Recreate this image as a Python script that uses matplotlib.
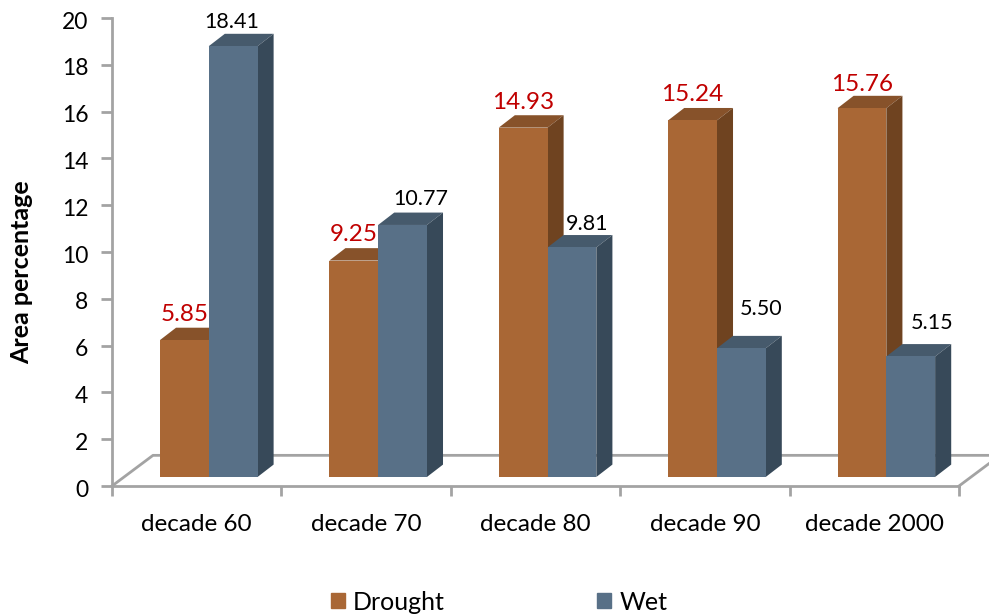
import matplotlib
matplotlib.use("Agg")
import matplotlib.pyplot as plt
from matplotlib.patches import Patch, Polygon
from matplotlib.transforms import ScaledTranslation

plt.rcParams["font.family"] = ["Lato", "DejaVu Sans"]

# Chart data
decades = ["decade 60", "decade 70", "decade 80", "decade 90", "decade 2000"]
drought = [5.85, 9.25, 14.93, 15.24, 15.76]
wet = [18.41, 10.77, 9.81, 5.50, 5.15]
y_ticks = [0, 2, 4, 6, 8, 10, 12, 14, 16, 18, 20]

# Label nudges relative to each bar's front top centre, in pixels
drought_nudge = [(0, 26), (0, 26), (0, 25), (0, 26), (0, 24)]
wet_nudge = [(-1, 24), (18, 26), (15, 23), (20, 39), (21, 33)]

# Colours: front, top and side face of the extruded bars
DROUGHT_FACES = ("#A96735", "#87522A", "#6F4320")
WET_FACES = ("#587087", "#465A6C", "#374959")
AXIS_GRAY = "#A3A3A3"
DROUGHT_TEXT = "#C00000"

# Pseudo-3D layout, in axis units
BAR_W = 0.288
GROUP_LEFT = 0.283
LIFT = 0.385       # front edge of bars above the floor's front edge
DEPTH_X = 0.095    # bar extrusion
DEPTH_Y = 0.53
FLOOR_X = 0.242    # floor extrusion
FLOOR_Y = 1.31

fig = plt.figure(figsize=(9.89, 6.14), dpi=100)
ax = fig.add_axes([112 / 989, (614 - 486) / 614, 847 / 989, 468 / 614])
ax.set_xlim(0, 5)
ax.set_ylim(0, 20)

# Floor outline behind the bars
floor_style = dict(color=AXIS_GRAY, lw=2, clip_on=False, zorder=1)
ax.plot([0, FLOOR_X, 5 + FLOOR_X], [0, FLOOR_Y, FLOOR_Y], **floor_style)
ax.plot([5, 5 + FLOOR_X], [0, FLOOR_Y], **floor_style)


def extruded_bars(lefts, values, faces, z):
    front, top, side = faces
    ax.bar(lefts, values, width=BAR_W, bottom=LIFT, align="edge",
           color=front, zorder=z + 0.2)
    for x, v in zip(lefts, values):
        h = LIFT + v
        r = x + BAR_W
        ax.add_patch(Polygon(
            [(x, h), (r, h), (r + DEPTH_X, h + DEPTH_Y), (x + DEPTH_X, h + DEPTH_Y)],
            closed=True, fc=top, ec="none", zorder=z, clip_on=False))
        ax.add_patch(Polygon(
            [(r, LIFT), (r + DEPTH_X, LIFT + DEPTH_Y), (r + DEPTH_X, h + DEPTH_Y), (r, h)],
            closed=True, fc=side, ec="none", zorder=z, clip_on=False))


positions = range(len(decades))
drought_left = [i + GROUP_LEFT for i in positions]
wet_left = [x + BAR_W for x in drought_left]
extruded_bars(drought_left, drought, DROUGHT_FACES, 2)
extruded_bars(wet_left, wet, WET_FACES, 3)

# Value labels
for lefts, values, nudges, colour, size in (
    (drought_left, drought, drought_nudge, DROUGHT_TEXT, 17.5),
    (wet_left, wet, wet_nudge, "black", 15.5),
):
    for x, v, (dx, dy) in zip(lefts, values, nudges):
        ax.annotate(f"{v:.2f}", (x + BAR_W / 2, LIFT + v),
                    xytext=(dx * 0.72, dy * 0.72), textcoords="offset points",
                    ha="center", va="center", fontsize=size, color=colour,
                    zorder=6, annotation_clip=False)

# Axes
for name in ("top", "right"):
    ax.spines[name].set_visible(False)
for name in ("left", "bottom"):
    ax.spines[name].set_color(AXIS_GRAY)
    ax.spines[name].set_linewidth(2)
    ax.spines[name].set_zorder(1.5)
ax.patch.set_alpha(0)

ax.set_yticks(y_ticks)
ax.tick_params(axis="y", length=8, width=2, color=AXIS_GRAY, labelsize=16.5, pad=9)
nudge_down = ScaledTranslation(0, -1.5 / 72, fig.dpi_scale_trans)
for label in ax.get_yticklabels():
    label.set_transform(label.get_transform() + nudge_down)
ax.set_xticks(range(len(decades) + 1))
ax.set_xticklabels([])
ax.tick_params(axis="x", length=7.5, width=2, color=AXIS_GRAY)

# Category names sit under the middle of each group's tick interval
for i, name in enumerate(decades):
    ax.annotate(name, (i + 0.5, 0), xytext=(0, -27.5), textcoords="offset points",
                ha="center", va="center", fontsize=17.5, annotation_clip=False)

fig.text(22 / 989, 1 - 272 / 614, "Area percentage", rotation=90,
         ha="center", va="center", fontsize=18, fontweight="bold")

handles = [Patch(color=DROUGHT_FACES[0], label="Drought"),
           Patch(color=WET_FACES[0], label="Wet")]
fig.legend(handles=handles, loc="center", bbox_to_anchor=(499 / 989, 1 - 602 / 614),
           ncol=2, frameon=False, fontsize=18, handlelength=0.56, handleheight=0.56,
           handletextpad=0.32, columnspacing=6.1, borderpad=0)

fig.savefig("out.png", dpi=100)
